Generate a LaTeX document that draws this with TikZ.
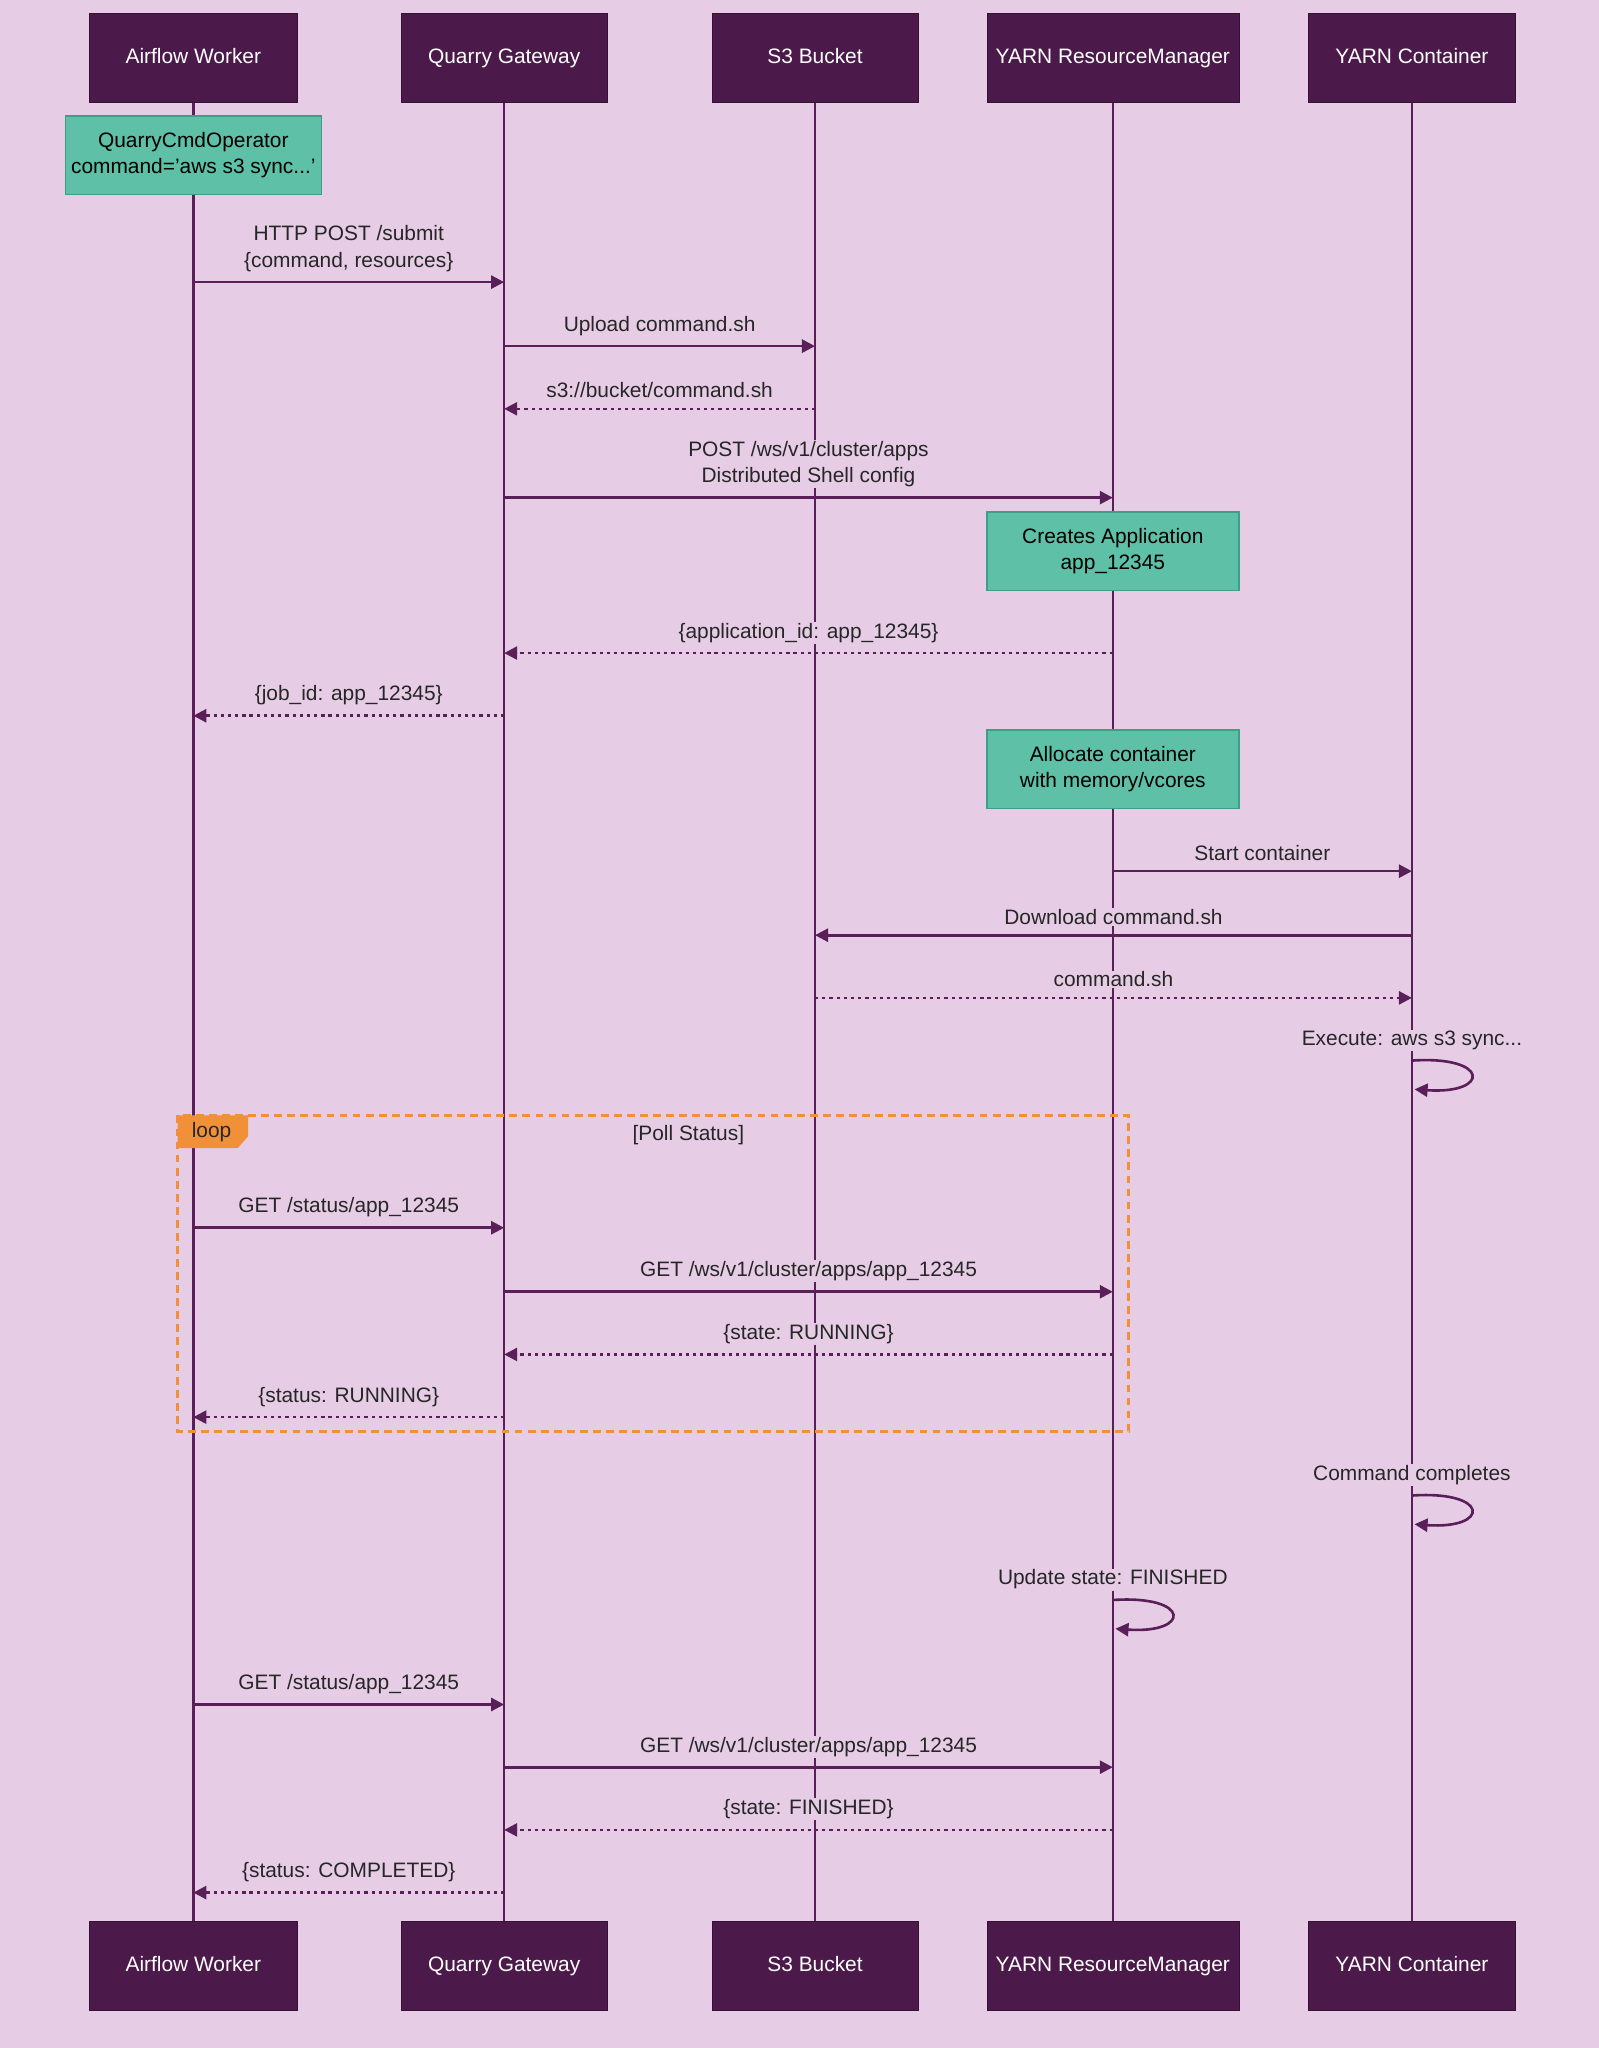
\documentclass[tikz,border=0pt]{standalone}
\usepackage{fontspec}
\setmainfont{Liberation Sans}
\usetikzlibrary{arrows.meta,calc}
\definecolor{bg}{HTML}{E6CDE5}
\definecolor{actor}{HTML}{4B1A4A}
\definecolor{ln}{HTML}{5A1F58}
\definecolor{notef}{HTML}{5EC0A6}
\definecolor{noted}{HTML}{3E9E86}
\definecolor{loopc}{HTML}{F0913A}
\tikzset{
 actorbox/.style={fill=actor,draw=actor!70!black,text=white,minimum height=68pt,font=\fontsize{16}{18}\selectfont,inner sep=0pt,text height=12pt,text depth=3pt},
 notebox/.style={fill=notef,draw=noted,line width=1.2pt,minimum height=60pt,align=center,font=\fontsize{16}{20}\selectfont,inner sep=0pt},
 life/.style={ln,line width=2pt},
 msg/.style={ln,line width=2pt,-{Triangle[length=10pt,width=10pt]}},
 ret/.style={msg,dash pattern=on 2.5pt off 3pt},
 lbl/.style={font=\fontsize{16}{20}\selectfont,align=center,text=black!85,inner sep=1pt,fill=bg},
}
\newcommand{\mymsg}[5]{%
 \coordinate (ma) at (#2,#4); \coordinate (mb) at (#3,#4);
 \draw[#1] (ma) -- (mb);
 \node[lbl,anchor=south] at ($ (ma)!0.5!(mb) + (0,-7) $) {#5};}
\newcommand{\myself}[3]{% x, y, label
 \coordinate (sa) at (#1,#2);
 \draw[msg] (sa) .. controls ($(sa)+(60,-4)$) and ($(sa)+(60,26)$) .. ($(sa)+(2,22)$);
 \node[lbl,anchor=south] at ($(sa)+(0,-7)$) {#3};}
\begin{document}
\begin{tikzpicture}[x=1pt,y=-1pt]
\useasboundingbox[fill=bg] (0,0) rectangle (1224,1568);
\foreach \n/\x/\w/\t in {aw/148/159/Airflow Worker,qg/386/158/Quarry Gateway,s3/624/158/S3 Bucket,rm/852/193/YARN ResourceManager,yc/1081/158/YARN Container}{
 \draw[life] (\x,70) -- (\x,1480);
 \node[actorbox,minimum width=\w pt] (\n T) at (\x,44) {\t};
 \node[actorbox,minimum width=\w pt] (\n B) at (\x,1505) {\t};
}
\node[notebox,minimum width=196pt] (n1) at (148,119) {QuarryCmdOperator\\command='aws s3 sync...'};
\node[notebox,minimum width=193pt] (n2) at (852,422) {Creates Application\\app\_12345};
\node[notebox,minimum width=193pt] (n3) at (852,589) {Allocate container\\with memory/vcores};
\mymsg{msg}{148}{386}{216}{HTTP POST /submit\\\{command, resources\}}
\mymsg{msg}{386}{624}{265}{Upload command.sh}
\mymsg{ret}{624}{386}{313}{s3://bucket/command.sh}
\mymsg{msg}{386}{852}{381}{POST /ws/v1/cluster/apps\\Distributed Shell config}
\mymsg{ret}{852}{386}{500}{\{application\_id: app\_12345\}}
\mymsg{ret}{386}{148}{548}{\{job\_id: app\_12345\}}
\mymsg{msg}{852}{1081}{667}{Start container}
\mymsg{msg}{1081}{624}{716}{Download command.sh}
\mymsg{ret}{624}{1081}{764}{command.sh}
\myself{1081}{812}{Execute: aws s3 sync...}
% loop
\draw[loopc,line width=1.8pt,dash pattern=on 6pt off 4pt] (136,854) rectangle (864,1096);
\fill[loopc] (136,854) -- (190,854) -- (190,870) -- (182,879) -- (136,879) -- cycle;
\node[font=\fontsize{16}{20}\selectfont,text=black!85] (lt) at (162,867) {loop};
\node[lbl,anchor=center] (lp) at (527,869) {[Poll Status]};
\mymsg{msg}{148}{386}{940}{GET /status/app\_12345}
\mymsg{msg}{386}{852}{989}{GET /ws/v1/cluster/apps/app\_12345}
\mymsg{ret}{852}{386}{1037}{\{state: RUNNING\}}
\mymsg{ret}{386}{148}{1085}{\{status: RUNNING\}}
\myself{1081}{1145}{Command completes}
\myself{852}{1225}{Update state: FINISHED}
\mymsg{msg}{148}{386}{1305}{GET /status/app\_12345}
\mymsg{msg}{386}{852}{1353}{GET /ws/v1/cluster/apps/app\_12345}
\mymsg{ret}{852}{386}{1401}{\{state: FINISHED\}}
\mymsg{ret}{386}{148}{1449}{\{status: COMPLETED\}}
\end{tikzpicture}
\end{document}
